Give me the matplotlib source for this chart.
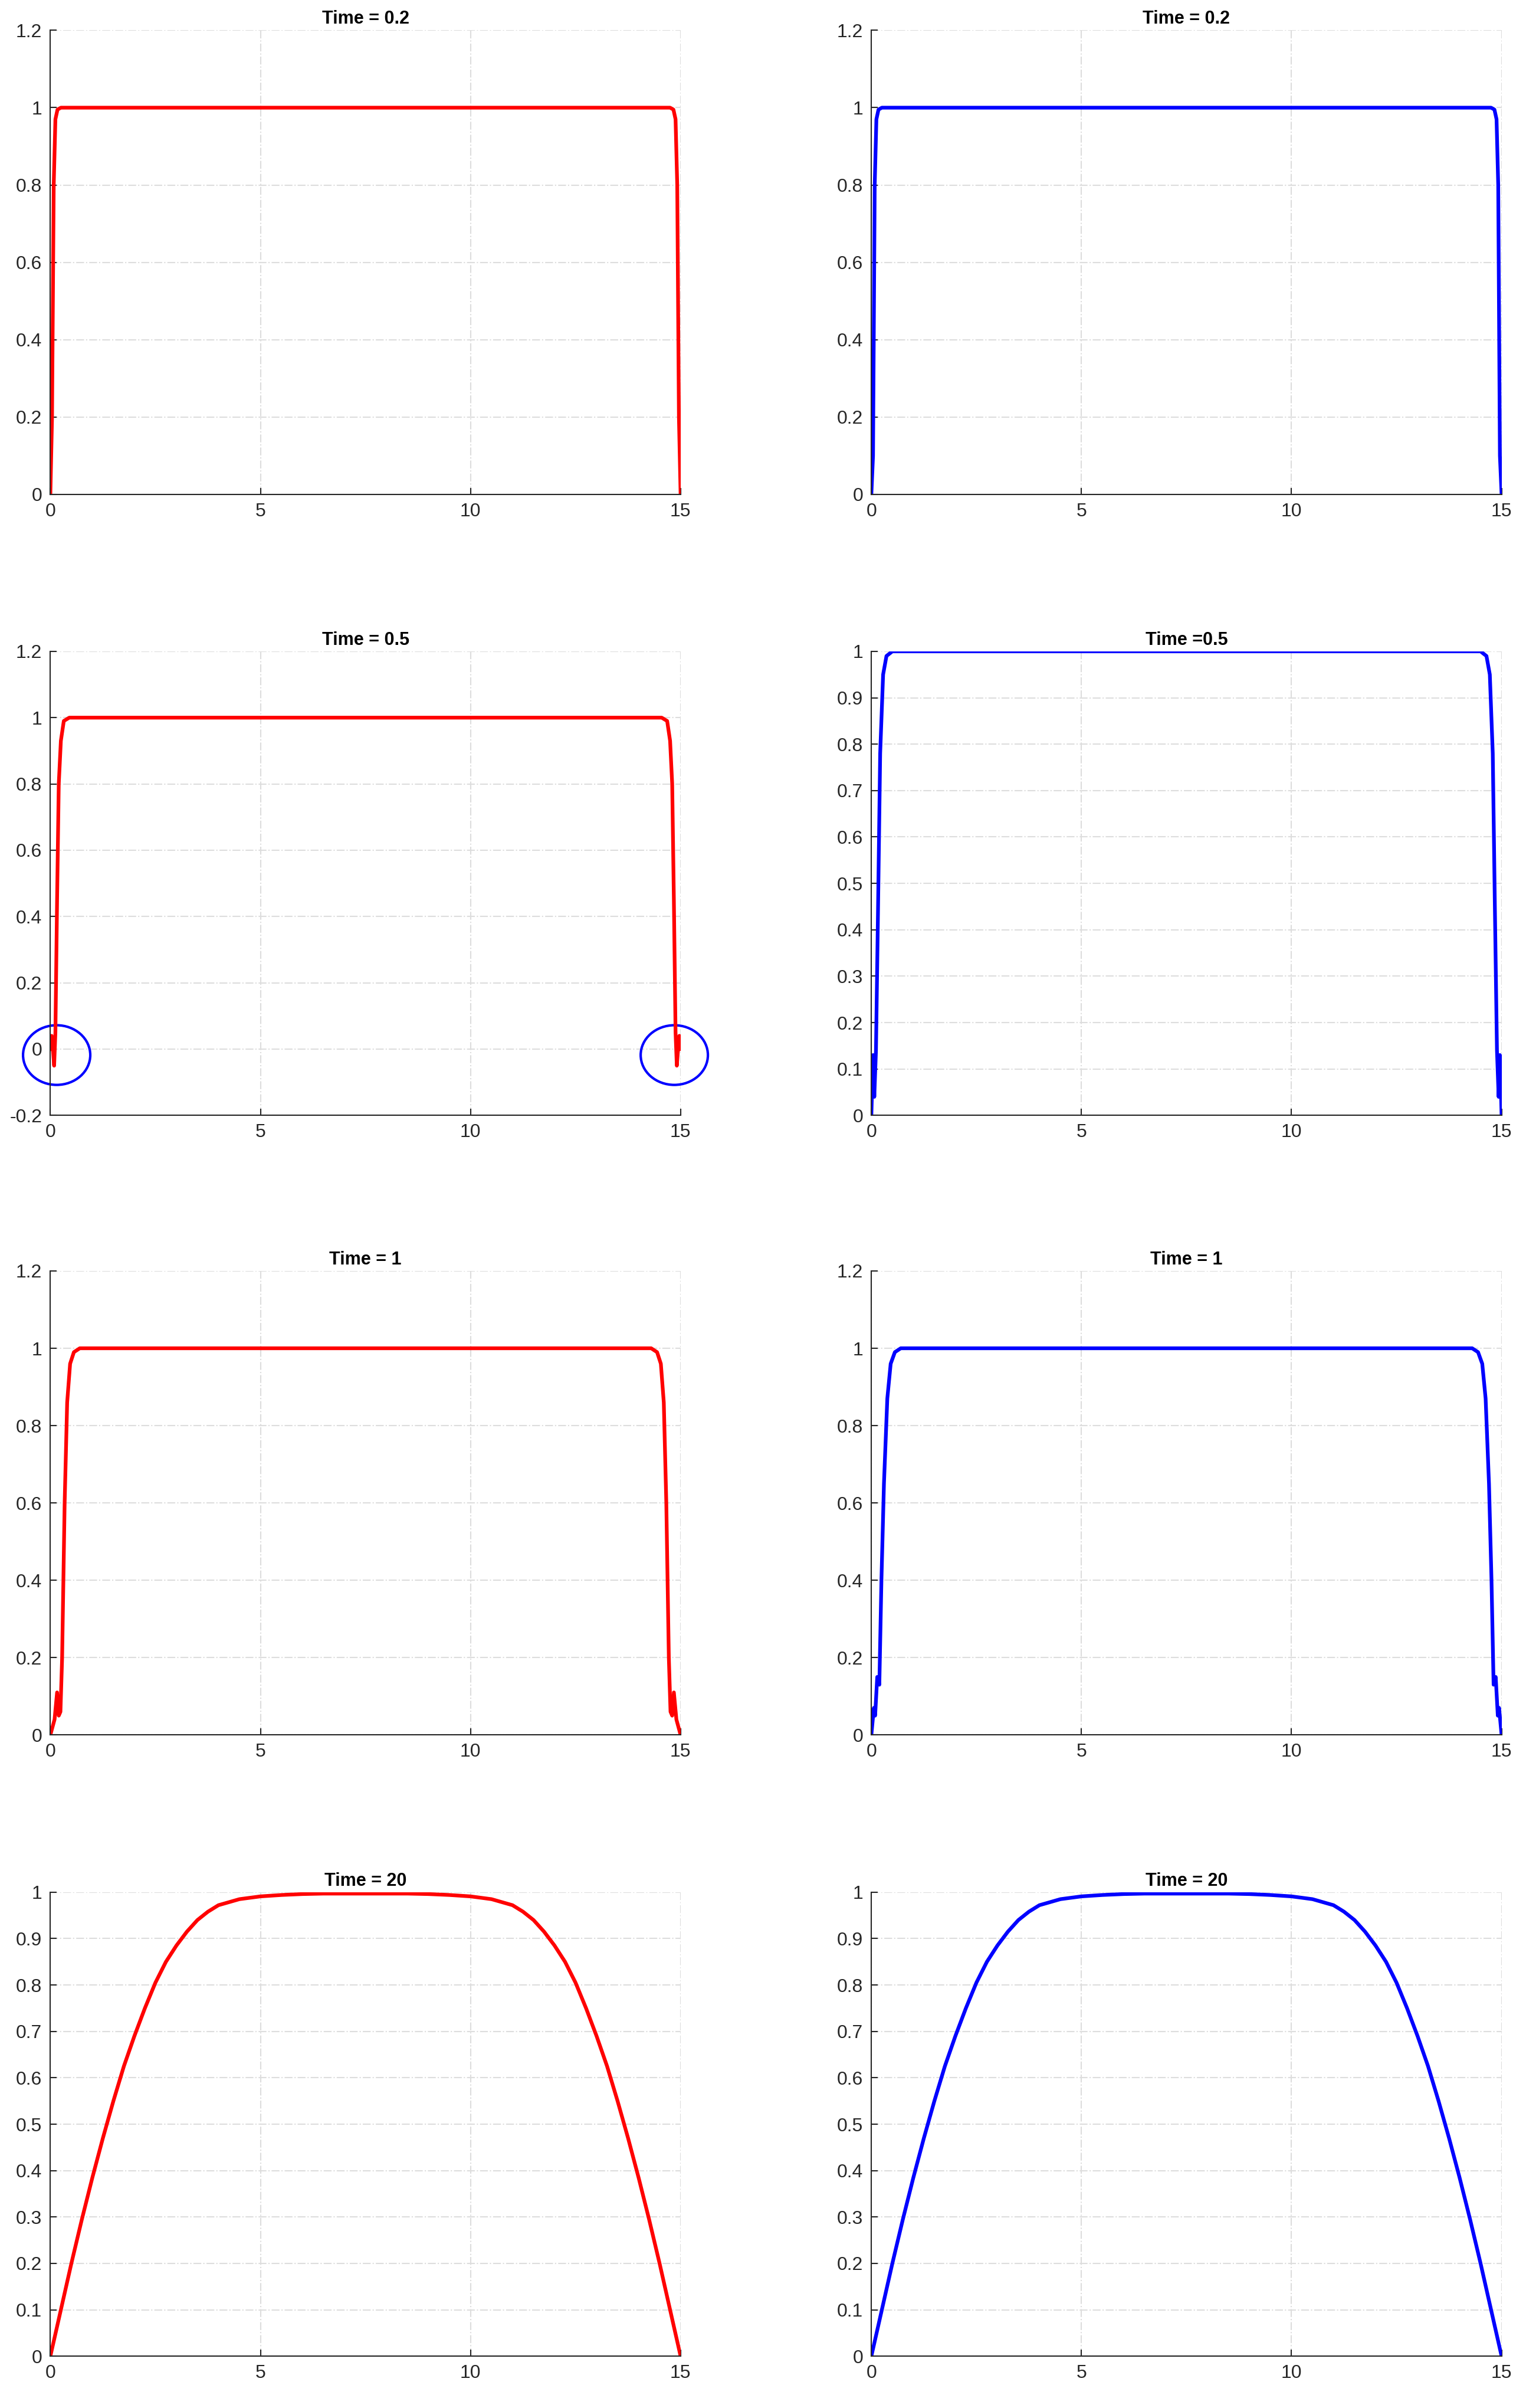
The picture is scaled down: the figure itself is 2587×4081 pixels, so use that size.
import matplotlib
matplotlib.use("Agg")
import matplotlib.pyplot as plt
from matplotlib.patches import Ellipse
import numpy as np

plt.rcParams["font.family"] = "Liberation Sans"

# left halves of each profile (x from 0 to 7.5), the right halves are mirrored
x_t02 = [0, 0.04, 0.08, 0.12, 0.17, 0.25, 7.5]
y_t02_red = [0, 0.2, 0.8, 0.97, 0.995, 1.0, 1.0]
y_t02_blue = [0, 0.1, 0.8, 0.97, 0.995, 1.0, 1.0]

x_t05_red = [0, 0.03, 0.06, 0.09, 0.12, 0.16, 0.2, 0.25, 0.32, 0.45, 7.5]
y_t05_red = [0, 0.04, 0.0, -0.05, 0.05, 0.45, 0.8, 0.93, 0.99, 1.0, 1.0]
x_t05_blue = [0, 0.04, 0.07, 0.11, 0.16, 0.21, 0.28, 0.36, 0.5, 7.5]
y_t05_blue = [0, 0.13, 0.04, 0.14, 0.45, 0.78, 0.95, 0.99, 1.0, 1.0]

x_t1_red = [0, 0.1, 0.16, 0.2, 0.24, 0.28, 0.34, 0.4, 0.47, 0.56, 0.7, 7.5]
y_t1_red = [0, 0.04, 0.11, 0.05, 0.06, 0.2, 0.6, 0.86, 0.96, 0.99, 1.0, 1.0]
x_t1_blue = [0, 0.06, 0.09, 0.14, 0.19, 0.24, 0.3, 0.38, 0.46, 0.56, 0.7, 7.5]
y_t1_blue = [0, 0.07, 0.05, 0.15, 0.13, 0.4, 0.65, 0.87, 0.96, 0.99, 1.0, 1.0]

x_t20 = [0, 0.25, 0.5, 0.75, 1, 1.25, 1.5, 1.75, 2, 2.25, 2.5, 2.75, 3, 3.25,
         3.5, 3.75, 4, 4.5, 5, 5.5, 6, 6.5, 7, 7.5]
y_t20 = [0, 0.1, 0.2, 0.295, 0.385, 0.47, 0.55, 0.625, 0.69, 0.75, 0.805, 0.85,
         0.885, 0.915, 0.94, 0.958, 0.972, 0.985, 0.991, 0.994, 0.996, 0.997,
         0.997, 0.997]


def mirror(xs, ys):
    xs = np.asarray(xs, float)
    ys = np.asarray(ys, float)
    return np.concatenate([xs, 15 - xs[-2::-1]]), np.concatenate([ys, ys[-2::-1]])


panels = [
    ("Time = 0.2", x_t02, y_t02_red, "red", (0, 1.2, 0.2)),
    ("Time = 0.2", x_t02, y_t02_blue, "blue", (0, 1.2, 0.2)),
    ("Time = 0.5", x_t05_red, y_t05_red, "red", (-0.2, 1.2, 0.2)),
    ("Time =0.5", x_t05_blue, y_t05_blue, "blue", (0, 1.0, 0.1)),
    ("Time = 1", x_t1_red, y_t1_red, "red", (0, 1.2, 0.2)),
    ("Time = 1", x_t1_blue, y_t1_blue, "blue", (0, 1.2, 0.2)),
    ("Time = 20", x_t20, y_t20, "red", (0, 1.0, 0.1)),
    ("Time = 20", x_t20, y_t20, "blue", (0, 1.0, 0.1)),
]

fig = plt.figure(figsize=(25.87, 40.81), dpi=100)
lefts = [0.033, 0.571]
bottoms = [0.7947, 0.5368, 0.2795, 0.0215]
w, h = 0.413, 0.1927

for i, (title, xs, ys, col, (ylo, yhi, ystep)) in enumerate(panels):
    ax = fig.add_axes([lefts[i % 2], bottoms[i // 2], w, h])
    X, Y = mirror(xs, ys)
    ax.plot(X, Y, color=col, linewidth=4.5)
    ax.set_xlim(0, 15)
    ax.set_ylim(ylo, yhi)
    ax.set_xticks([0, 5, 10, 15])
    yt = np.round(np.arange(ylo, yhi + ystep / 2, ystep), 2)
    ax.set_yticks(yt)
    ax.set_yticklabels([f"{v:g}" for v in yt])
    ax.set_title(title, fontsize=22, fontweight="bold", pad=8)
    ax.grid(True, linestyle="-.", color="#dddddd", linewidth=1.5)
    ax.set_axisbelow(True)
    for s in ("top", "right"):
        ax.spines[s].set_visible(False)
    for s in ("left", "bottom"):
        ax.spines[s].set_color("#262626")
        ax.spines[s].set_linewidth(1.5)
    ax.tick_params(labelsize=23, colors="#262626", length=8, width=1.5,
                   direction="in", pad=10)
    if i == 2:
        for cx in (0.15, 14.85):
            ax.add_patch(Ellipse((cx, -0.018), 1.6, 0.18, fill=False,
                                 edgecolor="blue", linewidth=3, clip_on=False))

fig.savefig("out.png", dpi=100)
